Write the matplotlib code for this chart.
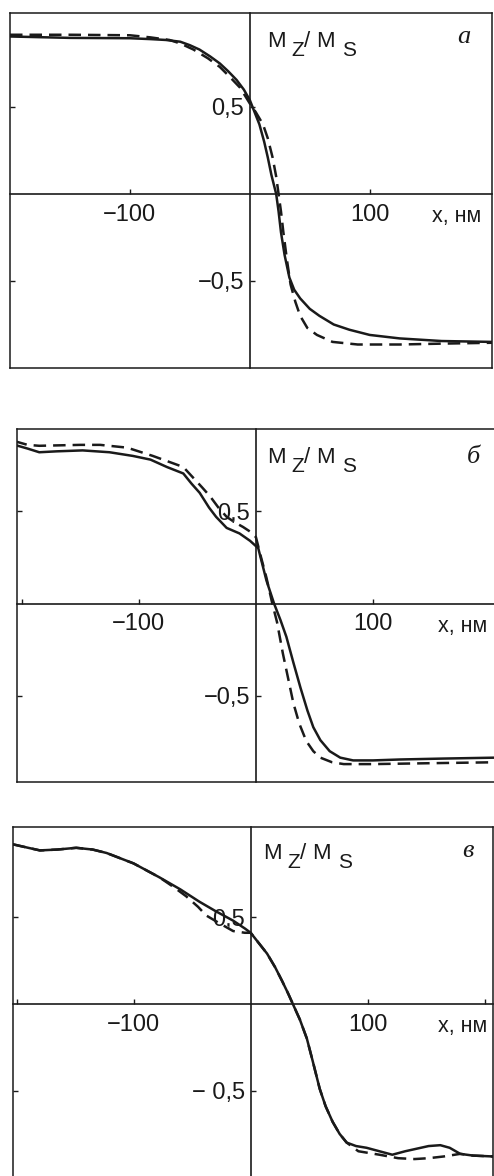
import matplotlib
matplotlib.use("Agg")
import matplotlib.pyplot as plt

plt.rcParams['font.family'] = ['Liberation Sans', 'DejaVu Sans']

# panel a: magnetization profile, solid and dashed
xa_solid = [-200, -150, -100, -83, -70, -58, -50, -42, -33, -25, -18, -11, -5, 0, 4, 8, 12, 15,
            18, 22, 24, 26, 29, 33, 37, 42, 50, 58, 70, 83, 100, 125, 160, 202]
ya_solid = [0.905, 0.897, 0.895, 0.89, 0.885, 0.875, 0.855, 0.83, 0.79, 0.75, 0.705, 0.655,
            0.60, 0.54, 0.47, 0.40, 0.30, 0.21, 0.11, 0.0, -0.10, -0.22, -0.35, -0.48, -0.55,
            -0.60, -0.66, -0.70, -0.75, -0.78, -0.81, -0.83, -0.845, -0.85]
xa_dash = [-200, -150, -100, -83, -67, -58, -47, -35, -25, -17, -8, 0, 5, 11, 15, 19, 22, 24,
           26, 28, 31, 34, 38, 42, 48, 56, 69, 90, 125, 160, 202]
ya_dash = [0.915, 0.915, 0.912, 0.90, 0.885, 0.865, 0.83, 0.78, 0.73, 0.675, 0.61, 0.52, 0.47,
           0.40, 0.32, 0.21, 0.10, 0.0, -0.10, -0.22, -0.38, -0.52, -0.62, -0.70, -0.77, -0.81,
           -0.85, -0.865, -0.865, -0.86, -0.855]

# panel b
xb_solid = [-206, -195, -185, -170, -148, -125, -105, -90, -76, -62, -55, -48, -40, -34, -25,
            -14, -5, 2, 9, 15.5, 21, 26, 32, 38, 44, 49, 55, 63, 72, 83, 100, 123, 160, 205]
yb_solid = [0.86, 0.84, 0.82, 0.825, 0.83, 0.82, 0.80, 0.78, 0.74, 0.705, 0.65, 0.60, 0.52,
            0.47, 0.41, 0.38, 0.34, 0.30, 0.125, 0.0, -0.09, -0.18, -0.32, -0.455, -0.58, -0.67,
            -0.74, -0.80, -0.835, -0.85, -0.85, -0.845, -0.84, -0.835]
xb_dash = [-206, -195, -185, -150, -133, -110, -88, -75, -62, -54, -46, -39, -32, -25, -18,
           -11, -5, 0, 4, 9, 14, 18, 23, 28, 32, 37, 43, 49, 55, 65, 75, 100, 150, 205]
yb_dash = [0.88, 0.86, 0.855, 0.86, 0.86, 0.845, 0.80, 0.77, 0.74, 0.685, 0.63, 0.58, 0.52,
           0.47, 0.44, 0.415, 0.39, 0.36, 0.26, 0.14, 0.0, -0.10, -0.27, -0.42, -0.54, -0.65,
           -0.745, -0.80, -0.835, -0.86, -0.87, -0.87, -0.865, -0.86]

# panel v
xv_solid = [-203, -190, -180, -165, -149, -135, -123, -100, -78, -60, -44, -30, -15, -5, 0, 7,
            14, 21, 27, 32, 36, 42, 48, 53, 59, 64, 70, 76, 82, 90, 99, 110, 121, 132, 142, 152,
            162, 170, 179, 190, 207]
yv_solid = [0.92, 0.90, 0.885, 0.89, 0.90, 0.89, 0.87, 0.81, 0.73, 0.66, 0.59, 0.535, 0.48,
            0.435, 0.41, 0.35, 0.29, 0.21, 0.13, 0.06, 0.0, -0.09, -0.20, -0.33, -0.49, -0.59,
            -0.68, -0.75, -0.80, -0.82, -0.83, -0.85, -0.87, -0.85, -0.835, -0.82, -0.815,
            -0.83, -0.865, -0.875, -0.88]
xv_dash = [-203, -190, -180, -165, -149, -135, -123, -100, -78, -65, -55, -45, -38, -28, -15,
           -5, 0, 7, 14, 21, 27, 32, 36, 42, 48, 53, 59, 64, 70, 76, 82, 92, 110, 126, 140, 152,
           165, 179, 190, 207]
yv_dash = [0.92, 0.90, 0.885, 0.89, 0.90, 0.89, 0.87, 0.81, 0.73, 0.67, 0.62, 0.56, 0.51, 0.47,
           0.42, 0.41, 0.41, 0.35, 0.29, 0.21, 0.13, 0.06, 0.0, -0.09, -0.20, -0.33, -0.49,
           -0.59, -0.68, -0.75, -0.80, -0.85, -0.87, -0.89, -0.895, -0.89, -0.88, -0.865,
           -0.875, -0.88]

W, H = 494, 1176
INK = '#1a1a1a'

panels = [
    # frame box in px (left, top, right, bottom); anchors in axes fraction
    dict(letter='a', box=(10, 13, 492, 368), xlim=(-200, 202), ylim=(-1.0, 1.04),
         xticks=[-100, 100], xlabels=['\u2212100', '100'], ylabels=['\u22120,5', '0,5'],
         mlab=(0.533, 0.904), let=(0.942, 0.915), unit=0.977,
         data=(xa_solid, ya_solid, xa_dash, ya_dash)),
    dict(letter='\u0431', box=(17, 429, 496, 782), xlim=(-204, 205), ylim=(-0.967, 0.946),
         xticks=[-200, -100, 100], xlabels=['', '\u2212100', '100'], ylabels=['\u22120,5', '0,5'],
         mlab=(0.522, 0.904), let=(0.952, 0.904), unit=0.981,
         data=(xb_solid, yb_solid, xb_dash, yb_dash)),
    dict(letter='\u0432', box=(13, 827, 493, 1179), xlim=(-203, 207), ylim=(-1.01, 1.02),
         xticks=[-200, -100, 100, 200], xlabels=['', '\u2212100', '100', ''],
         ylabels=['\u2212 0,5', '0,5'],
         mlab=(0.521, 0.909), let=(0.948, 0.915), unit=0.988,
         data=(xv_solid, yv_solid, xv_dash, yv_dash)),
]

fig = plt.figure(figsize=(W / 100, H / 100), dpi=100)

for p in panels:
    l, t, r, b = p['box']
    rect = [l / W, 1 - b / H, (r - l) / W, (b - t) / H]

    # outer frame with inward ticks on the left edge
    ax = fig.add_axes(rect)
    ax.set_xlim(*p['xlim'])
    ax.set_ylim(*p['ylim'])
    for s in ax.spines.values():
        s.set_linewidth(1.1)
        s.set_color(INK)
    ax.set_xticks([])
    ax.set_yticks([-0.5, 0.5])
    ax.tick_params(axis='y', direction='in', length=3.5, width=1.0, color=INK,
                   labelleft=False)

    xs, ys, xd, yd = p['data']
    ax.plot(xs, ys, color=INK, lw=1.8, solid_joinstyle='round')
    ax.plot(xd, yd, color=INK, lw=1.8, dashes=(5.0, 2.8))

    # coordinate axes crossing at the origin
    ax2 = fig.add_axes(rect)
    ax2.patch.set_visible(False)
    ax2.set_xlim(*p['xlim'])
    ax2.set_ylim(*p['ylim'])
    ax2.spines['top'].set_visible(False)
    ax2.spines['right'].set_visible(False)
    for side in ('left', 'bottom'):
        ax2.spines[side].set_position(('data', 0))
        ax2.spines[side].set_linewidth(1.2)
        ax2.spines[side].set_color(INK)
    ax2.set_xticks(p['xticks'])
    ax2.set_xticklabels(p['xlabels'])
    ax2.set_yticks([-0.5, 0.5])
    ax2.set_yticklabels(p['ylabels'])
    ax2.tick_params(axis='x', direction='in', length=3.5, width=1.0, color=INK,
                    pad=7, labelsize=17, labelcolor=INK)
    ax2.tick_params(axis='y', direction='in', length=3.5, width=1.0, color=INK,
                    pad=4, labelsize=17, labelcolor=INK)

    ax2.annotate('x, \u043d\u043c', xy=(p['unit'], 0), xycoords=('axes fraction', 'data'),
                 xytext=(0, -9), textcoords='offset points', ha='right', va='top',
                 fontsize=15.5, color=INK)

    # M_Z / M_S built from pieces, subscripts nearly full size
    mx, my = p['mlab']
    for txt, dx, dy, fs in [('M', 0, 0, 16), ('Z', 24, -9, 15), ('/', 37, 0, 16),
                            ('M', 49, 0, 16), ('S', 75, -9, 15)]:
        ax2.annotate(txt, xy=(mx, my), xycoords='axes fraction', xytext=(dx, dy),
                     textcoords='offset pixels', ha='left', va='baseline',
                     fontsize=fs, color=INK)

    ax2.text(p['let'][0], p['let'][1], p['letter'], transform=ax2.transAxes,
             ha='center', va='baseline', fontsize=19, style='italic',
             family=['Liberation Serif', 'DejaVu Serif'], color=INK)

fig.savefig('out.png', dpi=100, facecolor='white')
